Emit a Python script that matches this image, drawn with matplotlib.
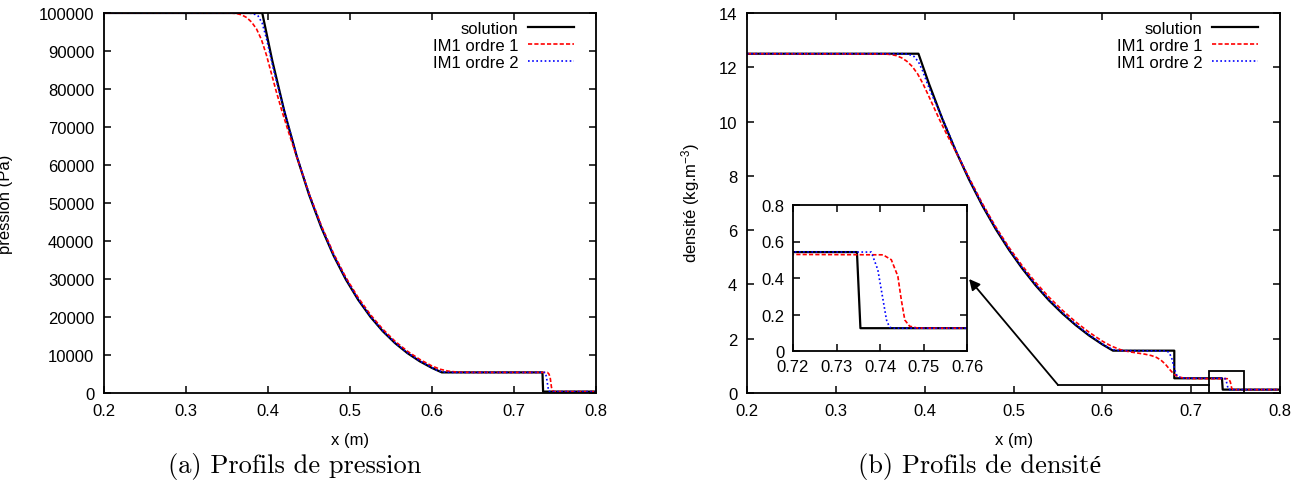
import matplotlib.pyplot as plt
from matplotlib.patches import Rectangle

plt.rcParams['font.family'] = ['Liberation Sans', 'DejaVu Sans']
plt.rcParams['mathtext.fontset'] = 'custom'
plt.rcParams['mathtext.rm'] = 'Liberation Sans'
plt.rcParams['mathtext.it'] = 'Liberation Sans'

# --- pressure (Pa) ---
x_p_sol = [0.2, 0.393, 0.405, 0.42, 0.435, 0.45, 0.465, 0.48, 0.495, 0.51, 0.525, 0.54,
           0.555, 0.57, 0.585, 0.6, 0.612, 0.7347, 0.7355, 0.8]
p_sol = [100000, 100000, 87650, 74060, 62320, 52220, 43550, 36140, 29850, 24520, 20020, 16250,
         13110, 10500, 8350, 6590, 5420, 5420, 370, 370]

x_p1 = [0.2, 0.355, 0.362, 0.368, 0.374, 0.38, 0.386, 0.392, 0.398, 0.404, 0.41, 0.417, 0.425,
        0.435, 0.45, 0.465, 0.48, 0.495, 0.51, 0.525, 0.54, 0.555, 0.57, 0.585, 0.6, 0.61, 0.62,
        0.63, 0.64, 0.65, 0.7407, 0.7426, 0.7441, 0.7449, 0.7457, 0.7468, 0.7484, 0.75, 0.8]
p1 = [100000, 99980, 99850, 99500, 98800, 97600, 95800, 93000, 89000, 84200, 79400, 74200, 68700,
      62200, 52600, 44100, 36700, 30400, 25100, 20600, 16800, 13600, 11000, 8850, 7100, 6250, 5750,
      5520, 5450, 5430, 5420, 5000, 4100, 2800, 1500, 700, 420, 370, 370]

x_p2 = [0.2, 0.375, 0.382, 0.388, 0.393, 0.398, 0.403, 0.408, 0.42, 0.435, 0.45, 0.465, 0.48,
        0.495, 0.51, 0.525, 0.54, 0.555, 0.57, 0.585, 0.6, 0.606, 0.612, 0.618, 0.625, 0.738,
        0.7395, 0.7407, 0.7415, 0.7422, 0.7432, 0.8]
p2 = [100000, 99990, 99850, 99200, 97300, 93400, 88700, 84000, 74200, 62500, 52400, 43750, 36300,
      30000, 24650, 20150, 16350, 13200, 10600, 8450, 6700, 6000, 5600, 5450, 5420, 5420,
      4300, 2600, 1500, 600, 370, 370]

# --- density (kg/m3) ---
x_r_sol = [0.2, 0.393, 0.405, 0.42, 0.435, 0.45, 0.465, 0.48, 0.495, 0.51, 0.525, 0.54,
           0.555, 0.57, 0.585, 0.6, 0.612, 0.681, 0.681, 0.7347, 0.7355, 0.8]
r_sol = [12.5, 12.5, 11.38, 10.09, 8.92, 7.86, 6.90, 6.04, 5.27, 4.58, 3.96, 3.41,
         2.93, 2.50, 2.12, 1.79, 1.56, 1.56, 0.542, 0.542, 0.125, 0.125]

x_r1 = [0.2, 0.355, 0.362, 0.368, 0.374, 0.38, 0.386, 0.392, 0.398, 0.404, 0.41, 0.417, 0.425,
        0.435, 0.45, 0.465, 0.48, 0.495, 0.51, 0.525, 0.54, 0.555, 0.57, 0.585, 0.6, 0.61, 0.62,
        0.63, 0.64, 0.648, 0.655, 0.661, 0.666, 0.671, 0.676, 0.681, 0.686, 0.692, 0.70, 0.71,
        0.7407, 0.7426, 0.7441, 0.7449, 0.7457, 0.7468, 0.7484, 0.75, 0.8]
r1 = [12.5, 12.49, 12.47, 12.43, 12.35, 12.22, 12.03, 11.76, 11.4, 10.98, 10.55, 10.05, 9.52,
      8.9, 7.93, 6.98, 6.12, 5.36, 4.68, 4.07, 3.53, 3.05, 2.62, 2.24, 1.91, 1.73, 1.60,
      1.52, 1.47, 1.43, 1.38, 1.31, 1.21, 1.06, 0.86, 0.68, 0.59, 0.55, 0.535, 0.53,
      0.527, 0.50, 0.41, 0.28, 0.17, 0.136, 0.127, 0.125, 0.125]

x_r2 = [0.2, 0.375, 0.382, 0.388, 0.393, 0.398, 0.403, 0.408, 0.42, 0.435, 0.45, 0.465, 0.48,
        0.495, 0.51, 0.525, 0.54, 0.555, 0.57, 0.585, 0.6, 0.606, 0.612, 0.618, 0.625, 0.672,
        0.675, 0.678, 0.681, 0.684, 0.688, 0.695, 0.738, 0.7395, 0.7407, 0.7415, 0.7422, 0.7432, 0.8]
r2 = [12.5, 12.5, 12.48, 12.4, 12.2, 11.85, 11.4, 11.0, 10.12, 8.95, 7.89, 6.93, 6.07,
      5.30, 4.61, 3.99, 3.44, 2.96, 2.53, 2.15, 1.81, 1.69, 1.6, 1.565, 1.56, 1.55,
      1.5, 1.3, 0.9, 0.64, 0.56, 0.545, 0.542, 0.445, 0.28, 0.17, 0.13, 0.125, 0.125]

labels = ['solution', 'IM1 ordre 1', 'IM1 ordre 2']
x_ticks = [0.2, 0.3, 0.4, 0.5, 0.6, 0.7, 0.8]
p_ticks = list(range(0, 100001, 10000))
r_ticks = [0, 2, 4, 6, 8, 10, 12, 14]
inset_xticks = [0.72, 0.73, 0.74, 0.75, 0.76]
inset_yticks = [0, 0.2, 0.4, 0.6, 0.8]

W, H = 1296, 481
fig = plt.figure(figsize=(W / 100, H / 100), dpi=100)


def px_axes(x0, y0, x1, y1):
    # pixel box (top-left origin) -> figure axes
    return fig.add_axes([x0 / W, 1 - y1 / H, (x1 - x0) / W, (y1 - y0) / H])


def style(ax, fs=12, padx=7, pady=7):
    for s in ax.spines.values():
        s.set_linewidth(1.3)
    ax.tick_params(direction='in', length=5, width=1.1, top=True, right=True,
                   labelsize=fs, colors='black')
    ax.tick_params(axis='x', pad=padx)
    ax.tick_params(axis='y', pad=pady)


def curves(ax, xs, ys, x1, y1, x2, y2):
    ax.plot(xs, ys, color='black', lw=1.6, label=labels[0])
    ax.plot(x1, y1, color='red', lw=1.2, ls=(0, (2.5, 1.3)), label=labels[1])
    ax.plot(x2, y2, color='blue', lw=1.2, ls=(0, (1, 1.5)), label=labels[2])


def legend(ax, width_px):
    ax.legend(loc='upper right', frameon=False, markerfirst=False, fontsize=12,
              handlelength=2.75, handletextpad=0.6, labelspacing=0.12,
              borderaxespad=0, borderpad=0.3,
              bbox_to_anchor=(1 - 17 / width_px, 1 - 3 / 380), bbox_transform=ax.transAxes)


# left panel: pressure
ax1 = px_axes(104, 14, 596, 394)
curves(ax1, x_p_sol, p_sol, x_p1, p1, x_p2, p2)
ax1.set_xlim(0.2, 0.8)
ax1.set_ylim(0, 100000)
ax1.set_xticks(x_ticks)
ax1.set_yticks(p_ticks)
style(ax1)
legend(ax1, 492)

# right panel: density
ax2 = px_axes(747, 14, 1280, 394)
curves(ax2, x_r_sol, r_sol, x_r1, r1, x_r2, r2)
ax2.set_xlim(0.2, 0.8)
ax2.set_ylim(0, 14)
ax2.set_xticks(x_ticks)
ax2.set_yticks(r_ticks)
style(ax2)
legend(ax2, 533)

# zoom box and arrow
ax2.add_patch(Rectangle((0.72, 0), 0.04, 0.8, fill=False, ec='black', lw=1.3, zorder=5))
ax2.plot([0.72, 0.55], [0.3, 0.3], color='black', lw=1.3, zorder=5)
ax2.annotate('', xy=(0.45, 4.2), xytext=(0.55, 0.3),
             arrowprops=dict(arrowstyle='-|>', color='black', lw=1.3,
                             mutation_scale=16, shrinkA=0, shrinkB=0))

# inset
ax3 = px_axes(793, 206, 967, 352)
curves(ax3, x_r_sol, r_sol, x_r1, r1, x_r2, r2)
ax3.set_xlim(0.72, 0.76)
ax3.set_ylim(0, 0.8)
ax3.set_xticks(inset_xticks)
ax3.set_yticks(inset_yticks)
ax3.set_xticklabels(['0.72', '0.73', '0.74', '0.75', '0.76'])
ax3.set_yticklabels(['0', '0.2', '0.4', '0.6', '0.8'])
style(ax3, padx=6, pady=6)

# axis labels
fig.text(350 / W, 1 - 440 / H, 'x (m)', ha='center', va='center', fontsize=12)
fig.text(1014 / W, 1 - 440 / H, 'x (m)', ha='center', va='center', fontsize=12)
fig.text(6 / W, 1 - 204 / H, 'pression (Pa)', rotation=90, ha='center', va='center', fontsize=12)
fig.text(691 / W, 1 - 203 / H, 'densité (kg.m$^{-3}$)', rotation=90, ha='center', va='center',
         fontsize=12)

# sub captions
cap_font = ['cmr10', 'Liberation Serif']
fig.text(295 / W, 1 - 466 / H, '(a) Profils de pression', ha='center', va='center',
         fontsize=19, family=cap_font)
fig.text(980 / W, 1 - 466 / H, '(b) Profils de densité', ha='center', va='center',
         fontsize=19, family=cap_font)

fig.savefig('out.png', dpi=100)
